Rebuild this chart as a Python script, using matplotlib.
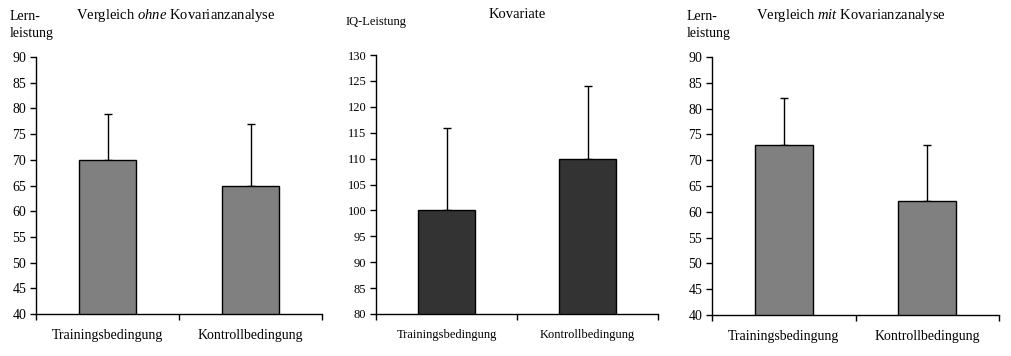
import matplotlib
matplotlib.use("Agg")
import matplotlib.pyplot as plt
import numpy as np

plt.rcParams['font.family'] = ['Liberation Serif', 'DejaVu Serif']
plt.rcParams['mathtext.fontset'] = 'custom'
plt.rcParams['mathtext.rm'] = 'Liberation Serif'
plt.rcParams['mathtext.it'] = 'Liberation Serif:italic'

categories = ["Trainingsbedingung", "Kontrollbedingung"]

# Panel 1: Vergleich ohne Kovarianzanalyse
means_ohne = [70, 65]
err_ohne = [9, 12]
# Panel 2: Kovariate (IQ)
means_iq = [100, 110]
err_iq = [16, 14]
# Panel 3: Vergleich mit Kovarianzanalyse
means_mit = [73, 62]
err_mit = [9, 11]

W, H = 1011, 356
fig = plt.figure(figsize=(W / 100, H / 100), dpi=100)


def px_axes(left, top, right, bottom):
    return fig.add_axes([left / W, 1 - bottom / H, (right - left) / W, (bottom - top) / H])


def draw(ax, means, errs, color, ylim, fs):
    x = np.arange(len(means)) + 0.5
    ax.bar(x, means, width=0.405, color=color, edgecolor='black', linewidth=1.0,
           bottom=0, zorder=2)
    ax.errorbar(x, means, yerr=[np.zeros(len(errs)), errs], fmt='none',
                ecolor='black', elinewidth=1.0, capsize=3, capthick=1.0, zorder=1)
    ax.set_xlim(0, len(means))
    ax.set_ylim(*ylim)
    ax.set_yticks(np.arange(ylim[0], ylim[1] + 1, 5))
    ax.set_xticks([0, 1, 2])
    ax.set_xticklabels([])
    for xi, c in zip(x, categories):
        ax.text(xi, -0.058, c, transform=ax.get_xaxis_transform(), ha='center',
                va='top', fontsize=fs)
    for s in ['top', 'right']:
        ax.spines[s].set_visible(False)
    for s in ['left', 'bottom']:
        ax.spines[s].set_linewidth(1.0)
    ax.tick_params(axis='both', direction='out', length=4, width=1.0, labelsize=fs, pad=3)
    ax.tick_params(axis='x', length=4)


ax1 = px_axes(36, 57, 322, 314)
draw(ax1, means_ohne, err_ohne, '#808080', (40, 90), 10)
ax2 = px_axes(376, 55, 658, 314)
draw(ax2, means_iq, err_iq, '#333333', (80, 130), 9)
ax3 = px_axes(712, 57, 999, 315)
draw(ax3, means_mit, err_mit, '#808080', (40, 90), 10)


def ftext(xp, yp, s, **kw):
    fig.text(xp / W, 1 - yp / H, s, **kw)


ftext(10, 16, "Lern-", fontsize=10, va='center', ha='left')
ftext(10, 34, "leistung", fontsize=10, va='center', ha='left')
ftext(76, 16, r"Vergleich $ohne$ Kovarianzanalyse", fontsize=10.5, va='center', ha='left')

ftext(346, 22, "IQ-Leistung", fontsize=9, va='center', ha='left')
ftext(517, 15, "Kovariate", fontsize=10.5, va='center', ha='center')

ftext(687, 16, "Lern-", fontsize=10, va='center', ha='left')
ftext(687, 34, "leistung", fontsize=10, va='center', ha='left')
ftext(756, 16, r"Vergleich $mit$ Kovarianzanalyse", fontsize=10.5, va='center', ha='left')

fig.savefig("out.png", dpi=100)
